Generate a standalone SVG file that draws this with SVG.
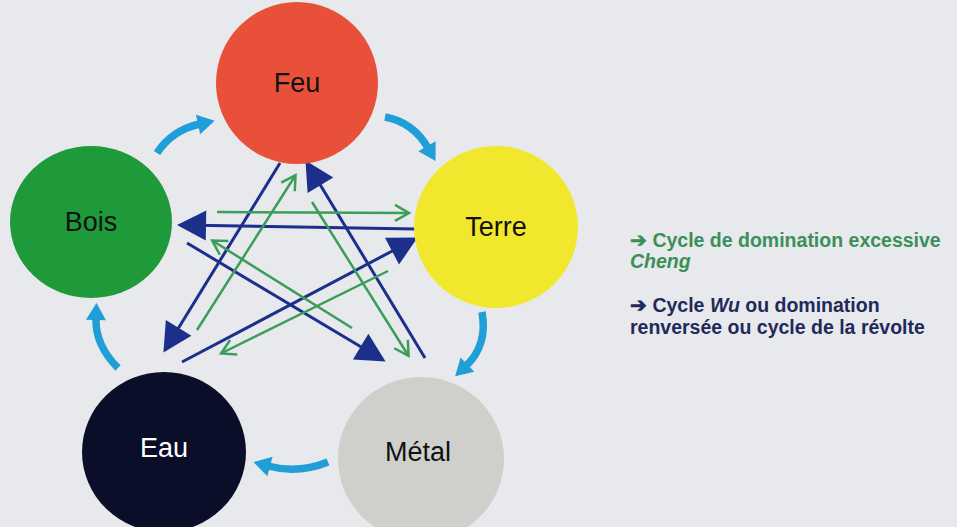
<svg xmlns="http://www.w3.org/2000/svg" width="957" height="527" viewBox="0 0 957 527">
<style>
.lbl{font-family:"Liberation Sans",Arial,sans-serif;font-size:27px;text-anchor:middle}
.cyc{fill:none;stroke:#1f9ed8;stroke-width:7.5;stroke-linecap:butt}
.wu{stroke:#1c2f8a;stroke-width:3;fill:none}
.ch{stroke:#3a9e5a;stroke-width:2.5;fill:none}
.leg{font-family:"Liberation Sans",Arial,sans-serif;font-size:19.5px;font-weight:bold}
</style>
<defs>
<marker id="mc" markerUnits="userSpaceOnUse" markerWidth="20" markerHeight="20" refX="2" refY="10" orient="auto" overflow="visible">
<path d="M0,0 L17,10 L0,20 z" fill="#1f9ed8"/>
</marker>
<marker id="mw" markerUnits="userSpaceOnUse" markerWidth="32" markerHeight="32" refX="26" refY="15" orient="auto" overflow="visible">
<path d="M0,0 L29,15 L0,30 z" fill="#1c2f8a"/>
</marker>
<marker id="mg" markerUnits="userSpaceOnUse" markerWidth="18" markerHeight="18" refX="13" refY="8" orient="auto" overflow="visible">
<path d="M0,0 L14,8 L0,16" fill="none" stroke="#3a9e5a" stroke-width="2.5"/>
</marker>
</defs>
<rect width="957" height="527" fill="#e8e9ec"/>
<g id="connectors">
<path class="cyc" d="M157,153 Q172,130 200,124" marker-end="url(#mc)"/>
<path class="cyc" d="M385,117 Q413,122 428,148" marker-end="url(#mc)"/>
<path class="cyc" d="M482,312 Q488,345 466,366" marker-end="url(#mc)"/>
<path class="cyc" d="M328,462 Q298,474 268,466" marker-end="url(#mc)"/>
<path class="cyc" d="M118,368 Q95,345 96,318" marker-end="url(#mc)"/>
<line class="wu" x1="280" y1="163" x2="165" y2="350" marker-end="url(#mw)"/>
<line class="wu" x1="425" y1="358" x2="307" y2="163" marker-end="url(#mw)"/>
<line class="wu" x1="415" y1="229" x2="180" y2="225" marker-end="url(#mw)"/>
<line class="wu" x1="187" y1="243" x2="383" y2="360" marker-end="url(#mw)"/>
<line class="wu" x1="182" y1="362" x2="415" y2="239" marker-end="url(#mw)"/>
<line class="ch" x1="197" y1="330" x2="295" y2="176" marker-end="url(#mg)"/>
<line class="ch" x1="312" y1="202" x2="408" y2="355" marker-end="url(#mg)"/>
<line class="ch" x1="217" y1="212" x2="408" y2="213" marker-end="url(#mg)"/>
<line class="ch" x1="388" y1="271" x2="222" y2="353" marker-end="url(#mg)"/>
<line class="ch" x1="352" y1="328" x2="213" y2="241" marker-end="url(#mg)"/>
</g>
<g id="feu">
<ellipse cx="297" cy="83" rx="81" ry="81" fill="#e8503a"/>
<text class="lbl" x="297" y="92" fill="#111">Feu</text>
</g>
<g id="bois">
<ellipse cx="91" cy="222" rx="81" ry="76" fill="#1f9a3a"/>
<text class="lbl" x="91" y="231" fill="#111">Bois</text>
</g>
<g id="terre">
<ellipse cx="496" cy="227" rx="82" ry="81" fill="#f1e82e"/>
<text class="lbl" x="496" y="236" fill="#111">Terre</text>
</g>
<g id="eau">
<ellipse cx="164" cy="452" rx="82" ry="80" fill="#0b0e28"/>
<text class="lbl" x="164" y="457" fill="#fff">Eau</text>
</g>
<g id="metal">
<ellipse cx="421" cy="459" rx="83" ry="82" fill="#cfd0cb"/>
<text class="lbl" x="418" y="461" fill="#111">Métal</text>
</g>
<g id="legend">
<text class="leg" x="630" y="247" fill="#3a8f5a">➔ Cycle de domination excessive</text>
<text class="leg" x="630" y="268" fill="#3a8f5a" font-style="italic">Cheng</text>
<text class="leg" x="630" y="312" fill="#1f2a5a">➔ Cycle <tspan font-style="italic">Wu</tspan> ou domination</text>
<text class="leg" x="630" y="334" fill="#1f2a5a">renversée ou cycle de la révolte</text>
</g>
</svg>
